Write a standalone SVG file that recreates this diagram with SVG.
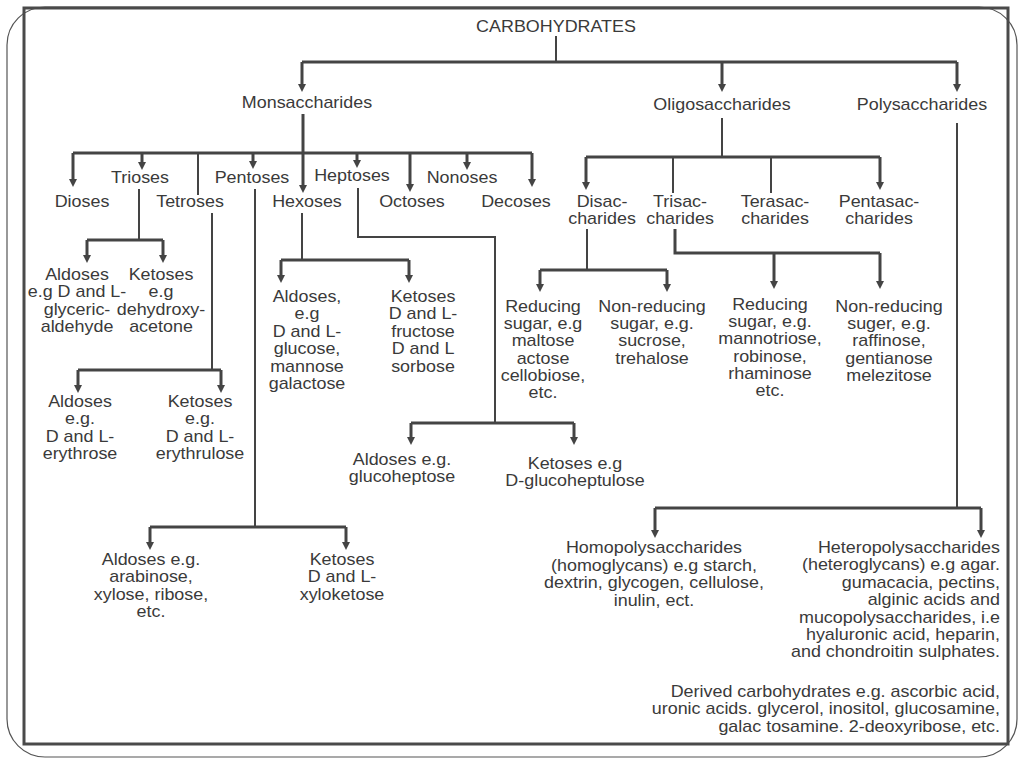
<svg xmlns="http://www.w3.org/2000/svg" width="1024" height="768" viewBox="0 0 1024 768">
<style>
.t{font-family:"Liberation Sans",Arial,sans-serif;font-size:16px;fill:#3a3a3a}
.m{text-anchor:middle}
.e{text-anchor:end}
.thick{fill:none;stroke:#444;stroke-width:3}
.thin{fill:none;stroke:#444;stroke-width:2}
.arr{fill:none;stroke:#444;stroke-width:3;marker-end:url(#ah)}
</style>
<defs>
<marker id="ah" viewBox="0 0 10 10" refX="5" refY="5" markerWidth="8" markerHeight="8" markerUnits="userSpaceOnUse" orient="auto">
<path d="M0,0 L10,5 L0,10 z" fill="#444"/>
</marker>
</defs>
<rect width="1024" height="768" fill="#fff"/>
<g id="frame">
<rect x="7" y="7" width="1010" height="750" rx="38" fill="#fff" stroke="#555" stroke-width="1.2"/>
<rect x="24" y="8" width="984" height="736" fill="none" stroke="#4a4a4a" stroke-width="3"/>
</g>
<g id="connectors">
<path class="thin" d="M556,36 V62"/>
<path class="thick" d="M302,62 H957"/>
<path class="arr" d="M302,62 V88"/>
<path class="arr" d="M722,62 V88"/>
<path class="arr" d="M957,62 V88"/>
<path class="thick" d="M303,114 V153"/>
<path class="thick" d="M73,153 H532"/>
<path class="arr" d="M303,153 V189"/>
<path class="arr" d="M73,153 V183"/>
<path class="arr" d="M142,153 V166"/>
<path class="thin" d="M198,153 V195"/>
<path class="arr" d="M253,153 V165"/>
<path class="arr" d="M357,153 V164"/>
<path class="arr" d="M410,153 V188"/>
<path class="arr" d="M467,153 V166"/>
<path class="arr" d="M532,153 V183"/>
<path class="thin" d="M139,189 V240"/>
<path class="thick" d="M87,240 H163"/>
<path class="arr" d="M87,240 V259"/>
<path class="arr" d="M163,240 V259"/>
<path class="thin" d="M212,213 V370"/>
<path class="thick" d="M78,370 H221"/>
<path class="arr" d="M78,370 V389"/>
<path class="arr" d="M221,370 V389"/>
<path class="thin" d="M255,189 V527"/>
<path class="thick" d="M150,527 H346"/>
<path class="arr" d="M150,527 V546"/>
<path class="arr" d="M346,527 V546"/>
<path class="thin" d="M302,213 V260"/>
<path class="thick" d="M281,260 H409"/>
<path class="arr" d="M281,260 V279"/>
<path class="arr" d="M409,260 V279"/>
<path class="thin" d="M358,188 V237 H495 V423"/>
<path class="thick" d="M411,423 H574"/>
<path class="arr" d="M411,423 V441"/>
<path class="arr" d="M574,423 V441"/>
<path class="thin" d="M722,118 V157"/>
<path class="thick" d="M586,157 H880"/>
<path class="arr" d="M586,157 V186"/>
<path class="thin" d="M673,157 V193"/>
<path class="thin" d="M771,157 V193"/>
<path class="arr" d="M880,157 V186"/>
<path class="thin" d="M587,229 V270"/>
<path class="thick" d="M540,270 H667"/>
<path class="arr" d="M540,270 V288"/>
<path class="arr" d="M667,270 V288"/>
<path class="thick" d="M675,229 V253 H880"/>
<path class="arr" d="M774,253 V285"/>
<path class="arr" d="M880,253 V285"/>
<path class="thin" d="M957,123 V508"/>
<path class="thick" d="M655,508 H981"/>
<path class="arr" d="M655,508 V534"/>
<path class="arr" d="M981,508 V534"/>
</g>
<g id="carbohydrates"><text class="t m" transform="translate(556,32) scale(1.12 1)">CARBOHYDRATES</text></g>
<g id="monosaccharides"><text class="t m" transform="translate(307,108) scale(1.12 1)">Monsaccharides</text></g>
<g id="oligosaccharides"><text class="t m" transform="translate(722,110) scale(1.12 1)">Oligosaccharides</text></g>
<g id="polysaccharides"><text class="t m" transform="translate(922,110) scale(1.12 1)">Polysaccharides</text></g>
<g id="dioses"><text class="t m" transform="translate(82,207) scale(1.12 1)">Dioses</text></g>
<g id="trioses"><text class="t m" transform="translate(140,183) scale(1.12 1)">Trioses</text></g>
<g id="tetroses"><text class="t m" transform="translate(190,207) scale(1.12 1)">Tetroses</text></g>
<g id="pentoses"><text class="t m" transform="translate(252,183) scale(1.12 1)">Pentoses</text></g>
<g id="hexoses"><text class="t m" transform="translate(307,207) scale(1.12 1)">Hexoses</text></g>
<g id="heptoses"><text class="t m" transform="translate(352,181) scale(1.12 1)">Heptoses</text></g>
<g id="octoses"><text class="t m" transform="translate(412,207) scale(1.12 1)">Octoses</text></g>
<g id="nonoses"><text class="t m" transform="translate(462,183) scale(1.12 1)">Nonoses</text></g>
<g id="decoses"><text class="t m" transform="translate(516,207) scale(1.12 1)">Decoses</text></g>
<g id="disaccharides"><text class="t m" transform="translate(602,207) scale(1.12 1)"><tspan x="0" y="0">Disac-</tspan><tspan x="0" y="17">charides</tspan></text></g>
<g id="trisaccharides"><text class="t m" transform="translate(680,207) scale(1.12 1)"><tspan x="0" y="0">Trisac-</tspan><tspan x="0" y="17">charides</tspan></text></g>
<g id="terasaccharides"><text class="t m" transform="translate(775,207) scale(1.12 1)"><tspan x="0" y="0">Terasac-</tspan><tspan x="0" y="17">charides</tspan></text></g>
<g id="pentasaccharides"><text class="t m" transform="translate(879,207) scale(1.12 1)"><tspan x="0" y="0">Pentasac-</tspan><tspan x="0" y="17">charides</tspan></text></g>
<g id="triose-aldoses"><text class="t m" transform="translate(77,280) scale(1.12 1)"><tspan x="0" y="0">Aldoses</tspan><tspan x="0" y="17.4">e.g D and L-</tspan><tspan x="0" y="34.8">glyceric-</tspan><tspan x="0" y="52.2">aldehyde</tspan></text></g>
<g id="triose-ketoses"><text class="t m" transform="translate(161,280) scale(1.12 1)"><tspan x="0" y="0">Ketoses</tspan><tspan x="0" y="17.4">e.g</tspan><tspan x="0" y="34.8">dehydroxy-</tspan><tspan x="0" y="52.2">acetone</tspan></text></g>
<g id="tetrose-aldoses"><text class="t m" transform="translate(80,407) scale(1.12 1)"><tspan x="0" y="0">Aldoses</tspan><tspan x="0" y="17.4">e.g.</tspan><tspan x="0" y="34.8">D and L-</tspan><tspan x="0" y="52.2">erythrose</tspan></text></g>
<g id="tetrose-ketoses"><text class="t m" transform="translate(200,407) scale(1.12 1)"><tspan x="0" y="0">Ketoses</tspan><tspan x="0" y="17.4">e.g.</tspan><tspan x="0" y="34.8">D and L-</tspan><tspan x="0" y="52.2">erythrulose</tspan></text></g>
<g id="pentose-aldoses"><text class="t m" transform="translate(151,565) scale(1.12 1)"><tspan x="0" y="0">Aldoses e.g.</tspan><tspan x="0" y="17.4">arabinose,</tspan><tspan x="0" y="34.8">xylose, ribose,</tspan><tspan x="0" y="52.2">etc.</tspan></text></g>
<g id="pentose-ketoses"><text class="t m" transform="translate(342,565) scale(1.12 1)"><tspan x="0" y="0">Ketoses</tspan><tspan x="0" y="17.4">D and L-</tspan><tspan x="0" y="34.8">xyloketose</tspan></text></g>
<g id="hexose-aldoses"><text class="t m" transform="translate(307,302) scale(1.12 1)"><tspan x="0" y="0">Aldoses,</tspan><tspan x="0" y="17.4">e.g</tspan><tspan x="0" y="34.8">D and L-</tspan><tspan x="0" y="52.2">glucose,</tspan><tspan x="0" y="69.6">mannose</tspan><tspan x="0" y="87">galactose</tspan></text></g>
<g id="hexose-ketoses"><text class="t m" transform="translate(423,302) scale(1.12 1)"><tspan x="0" y="0">Ketoses</tspan><tspan x="0" y="17.4">D and L-</tspan><tspan x="0" y="34.8">fructose</tspan><tspan x="0" y="52.2">D and L</tspan><tspan x="0" y="69.6">sorbose</tspan></text></g>
<g id="heptose-aldoses"><text class="t m" transform="translate(402,465) scale(1.12 1)"><tspan x="0" y="0">Aldoses e.g.</tspan><tspan x="0" y="17.4">glucoheptose</tspan></text></g>
<g id="heptose-ketoses"><text class="t m" transform="translate(575,469) scale(1.12 1)"><tspan x="0" y="0">Ketoses e.g</tspan><tspan x="0" y="17.4">D-glucoheptulose</tspan></text></g>
<g id="disac-reducing"><text class="t m" transform="translate(543,312) scale(1.12 1)"><tspan x="0" y="0">Reducing</tspan><tspan x="0" y="17.2">sugar, e.g</tspan><tspan x="0" y="34.4">maltose</tspan><tspan x="0" y="51.6">actose</tspan><tspan x="0" y="68.8">cellobiose,</tspan><tspan x="0" y="86">etc.</tspan></text></g>
<g id="disac-nonreducing"><text class="t m" transform="translate(652,312) scale(1.12 1)"><tspan x="0" y="0">Non-reducing</tspan><tspan x="0" y="17.2">sugar, e.g.</tspan><tspan x="0" y="34.4">sucrose,</tspan><tspan x="0" y="51.6">trehalose</tspan></text></g>
<g id="trisac-reducing"><text class="t m" transform="translate(770,310) scale(1.12 1)"><tspan x="0" y="0">Reducing</tspan><tspan x="0" y="17.2">sugar, e.g.</tspan><tspan x="0" y="34.4">mannotriose,</tspan><tspan x="0" y="51.6">robinose,</tspan><tspan x="0" y="68.8">rhaminose</tspan><tspan x="0" y="86">etc.</tspan></text></g>
<g id="trisac-nonreducing"><text class="t m" transform="translate(889,312) scale(1.12 1)"><tspan x="0" y="0">Non-reducing</tspan><tspan x="0" y="17.2">suger, e.g.</tspan><tspan x="0" y="34.4">raffinose,</tspan><tspan x="0" y="51.6">gentianose</tspan><tspan x="0" y="68.8">melezitose</tspan></text></g>
<g id="homopolysaccharides"><text class="t m" transform="translate(654,553) scale(1.12 1)"><tspan x="0" y="0">Homopolysaccharides</tspan><tspan x="0" y="17.6">(homoglycans) e.g starch,</tspan><tspan x="0" y="35.2">dextrin, glycogen, cellulose,</tspan><tspan x="0" y="52.8">inulin, ect.</tspan></text></g>
<g id="heteropolysaccharides"><text class="t e" transform="translate(1000,553) scale(1.12 1)"><tspan x="0" y="0">Heteropolysaccharides</tspan><tspan x="0" y="17.4">(heteroglycans) e.g agar.</tspan><tspan x="0" y="34.8">gumacacia, pectins,</tspan><tspan x="0" y="52.2">alginic acids and</tspan><tspan x="0" y="69.6">mucopolysaccharides, i.e</tspan><tspan x="0" y="87">hyaluronic acid, heparin,</tspan><tspan x="0" y="104.4">and chondroitin sulphates.</tspan></text></g>
<g id="derived"><text class="t e" transform="translate(1000,697) scale(1.12 1)"><tspan x="0" y="0">Derived carbohydrates e.g. ascorbic acid,</tspan><tspan x="0" y="17.4">uronic acids. glycerol, inositol, glucosamine,</tspan><tspan x="0" y="34.8">galac tosamine. 2-deoxyribose, etc.</tspan></text></g>
</svg>
